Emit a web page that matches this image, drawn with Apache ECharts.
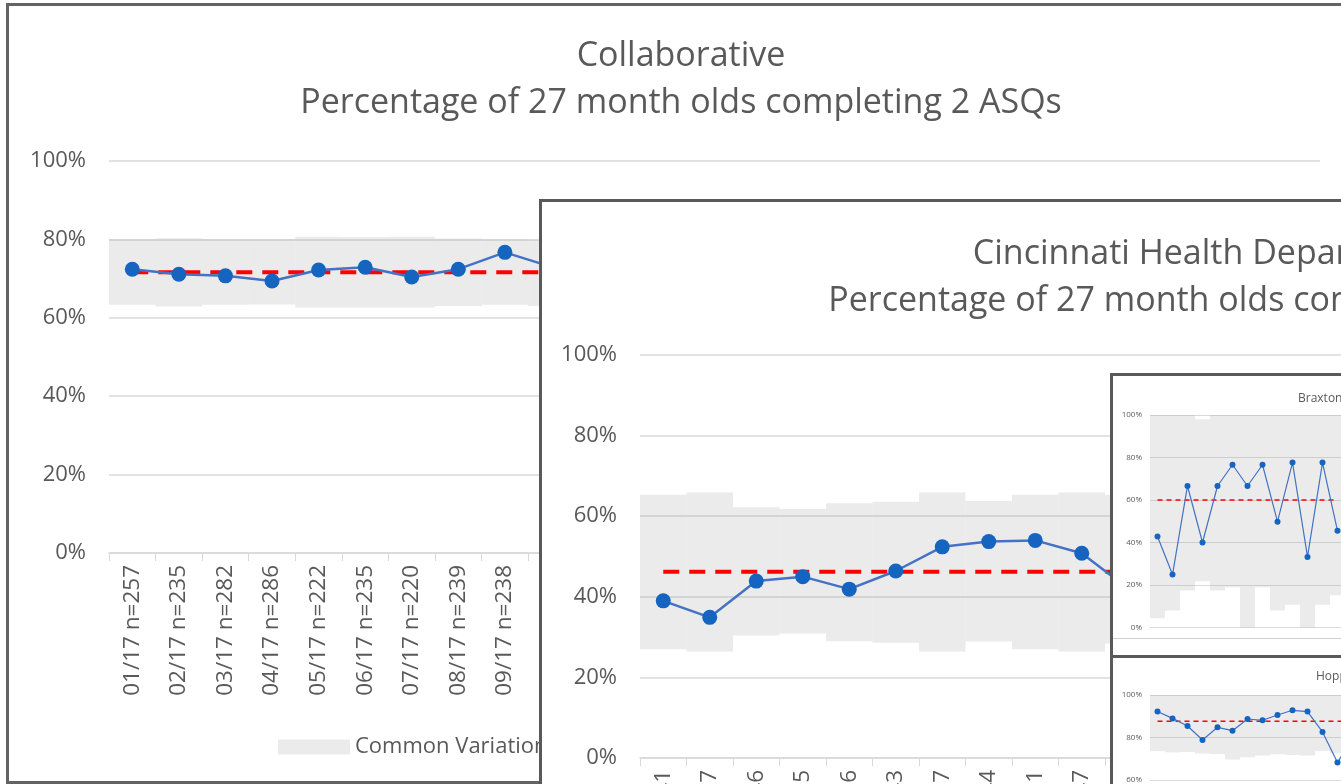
<!DOCTYPE html>
<html>
<head>
<meta charset="utf-8">
<title>ASQ completion run charts</title>
<script src="https://cdn.jsdelivr.net/npm/echarts@6/dist/echarts.min.js"></script>
<style>
html, body { margin: 0; padding: 0; background: #fff; width: 1341px; height: 784px; overflow: hidden; position: relative; }
.panel { position: absolute; background: #fff; }
#p1 { left: 6px; top: 3px; width: 1344px; height: 775px; border: 3px solid #636363; }
#p2 { left: 539px; top: 199px; width: 1334px; height: 800px; border: 3px solid #595959; }
#p3 { left: 1110px; top: 373px; width: 600px; height: 600px; border-left: 3px solid #595959; border-top: 3px solid #595959; }
#braxtonBox { position: absolute; left: 0; top: 0; width: 600px; height: 262px; border-bottom: 1px solid #d0d0d0; }
#hoppBox { position: absolute; left: 0; top: 279px; width: 600px; height: 400px; border-top: 3px solid #595959; }
.chart { width: 100%; height: 100%; }
</style>
</head>
<body>
<div class="panel" id="p1"><div class="chart" id="c1"></div></div>
<div class="panel" id="p2"><div class="chart" id="c2"></div></div>
<div class="panel" id="p3">
  <div id="braxtonBox"><div class="chart" id="c3"></div></div>
  <div id="hoppBox"><div class="chart" id="c4"></div></div>
</div>
<script>
// months shown on the big charts (26 months, only the first ones are visible)
const laterMonths = ['10/17', '11/17', '12/17', '01/18', '02/18', '03/18', '04/18', '05/18', '06/18',
  '07/18', '08/18', '09/18', '10/18', '11/18', '12/18', '01/19', '02/19'];

// Collaborative
const collabCats = ['01/17 n=257', '02/17 n=235', '03/17 n=282', '04/17 n=286', '05/17 n=222',
  '06/17 n=235', '07/17 n=220', '08/17 n=239', '09/17 n=238'].concat(laterMonths);
const collabPct = [72.4, 71.1, 70.7, 69.4, 72.2, 72.9, 70.4, 72.4, 76.7, 73.0];
const collabLcl = [63.3, 62.9, 63.3, 63.4, 62.6, 62.6, 62.6, 63.0, 63.3, 63.0];
const collabUcl = [80.1, 80.3, 80.1, 80.1, 80.7, 80.6, 80.7, 80.2, 80.1, 80.0];
const collabCl = 71.6;

// Cincinnati Health Department
const cincyCats = ['01/17 n=41', '02/17 n=37', '03/17 n=46', '04/17 n=35', '05/17 n=36',
  '06/17 n=43', '07/17 n=27', '08/17 n=44', '09/17 n=51', '10/17 n=47', '11/17', '12/17', '01/18',
  '02/18', '03/18', '04/18', '05/18', '06/18', '07/18', '08/18', '09/18', '10/18', '11/18', '12/18',
  '01/19', '02/19'];
const cincyPct = [39.0, 34.9, 43.9, 45.0, 41.9, 46.4, 52.4, 53.7, 54.0, 50.8, 42.0];
const cincyLcl = [27.0, 26.4, 30.4, 30.9, 29.0, 28.6, 26.4, 28.9, 27.0, 26.4, 28.4];
const cincyUcl = [65.3, 65.9, 62.2, 61.8, 63.2, 63.6, 65.9, 63.8, 65.3, 65.9, 65.3];
const cincyCl = 46.2;

// Braxton (small chart)
const braxtonCats = ['01/17', '02/17', '03/17', '04/17', '05/17', '06/17', '07/17', '08/17', '09/17',
  '10/17', '11/17', '12/17', '01/18'];
const braxtonPct = [42.8, 24.9, 66.6, 40.0, 66.6, 76.6, 66.6, 76.6, 49.8, 77.6, 33.2, 77.6, 45.5];
const braxtonLcl = [4.4, 8.0, 17.4, 21.8, 17.4, 19.0, 0, 19.0, 8.0, 10.7, 0, 10.7, 15.2];
const braxtonUcl = [100, 100, 100, 98, 100, 100, 100, 100, 100, 100, 100, 100, 100];
const braxtonCl = 60;

// Hopp... (small chart)
const hoppCats = ['01/17', '02/17', '03/17', '04/17', '05/17', '06/17', '07/17', '08/17', '09/17',
  '10/17', '11/17', '12/17', '01/18', '02/18'];
const hoppPct = [92.2, 89.0, 85.4, 78.8, 84.8, 83.2, 88.7, 88.1, 90.6, 92.8, 92.2, 82.6, 68.2, 80.0];
const hoppLcl = [73.6, 73.0, 73.2, 72.5, 72.2, 69.7, 70.7, 71.5, 72.1, 71.8, 71.5, 73.6, 72.5, 72.0];
const hoppUcl = [100, 100, 100, 100, 100, 100, 100, 100, 100, 100, 100, 100, 100, 100];
const hoppCl = 87.6;

const textGrey = '#595959';

function spcOption(cfg) {
  const bandSize = cfg.ucl.map((u, i) => +(u - cfg.lcl[i]).toFixed(1));
  const centre = cfg.cats.map(() => cfg.cl);
  const big = cfg.big;
  return {
    animation: false,
    textStyle: { fontFamily: 'Open Sans' },
    title: {
      text: cfg.title,
      left: cfg.titleLeft,
      top: cfg.titleTop,
      textStyle: { fontSize: big ? 34 : 12, fontWeight: 'normal', color: textGrey, lineHeight: big ? 47 : 14 }
    },
    legend: big ? {
      data: ['Common Variation'],
      left: cfg.legendLeft,
      top: cfg.legendTop,
      icon: 'rect',
      itemWidth: 72,
      itemHeight: 15,
      textStyle: { fontSize: 22, color: textGrey }
    } : { show: false },
    grid: cfg.grid,
    xAxis: {
      type: 'category',
      data: cfg.cats,
      axisLine: { lineStyle: { color: '#d9d9d9', width: big ? 1.5 : 1 } },
      axisTick: { show: big, length: 8, lineStyle: { color: '#d9d9d9' } },
      axisLabel: { show: big, rotate: 90, fontSize: 22.5, color: textGrey, margin: 12, interval: 0 }
    },
    yAxis: {
      type: 'value',
      min: 0,
      max: 100,
      interval: 20,
      axisLabel: { formatter: '{value}%', fontSize: big ? 22 : 8, color: textGrey, margin: big ? 23 : 8 },
      axisLine: { show: false },
      axisTick: { show: false },
      splitLine: { lineStyle: { color: '#d9d9d9', width: big ? 1.5 : 1 } }
    },
    series: [
      {
        type: 'bar', stack: 'band', data: cfg.lcl, barWidth: '100%', silent: true,
        itemStyle: { color: 'rgba(0,0,0,0)' }
      },
      {
        name: 'Common Variation', type: 'bar', stack: 'band', data: bandSize, barWidth: '100%', silent: true,
        itemStyle: { color: 'rgba(166,166,166,0.22)' }
      },
      {
        name: 'Center Line', type: 'line', data: centre, symbol: 'none', silent: true,
        lineStyle: { color: '#ff0000', width: big ? 4 : 1.5, type: big ? [16, 10] : [5, 4] }
      },
      {
        name: 'Percentage', type: 'line', data: cfg.values, symbol: 'circle',
        symbolSize: big ? 15 : 6,
        itemStyle: { color: '#1565c0' },
        lineStyle: { color: '#4472c4', width: big ? 2.5 : 1.2 }
      }
    ]
  };
}

const chart1 = echarts.init(document.getElementById('c1'));
chart1.setOption(spcOption({
  big: true,
  title: 'Collaborative\nPercentage of 27 month olds completing 2 ASQs',
  titleLeft: 'center', titleTop: 22,
  legendLeft: 264, legendTop: 725,
  grid: { left: 100, top: 155, width: 1211, height: 392 },
  cats: collabCats, values: collabPct, lcl: collabLcl, ucl: collabUcl, cl: collabCl
}));

const chart2 = echarts.init(document.getElementById('c2'));
chart2.setOption(spcOption({
  big: true,
  title: 'Cincinnati Health Department\nPercentage of 27 month olds completing 2 ASQs',
  titleLeft: 'center', titleTop: 24,
  legendLeft: 264, legendTop: 900,
  grid: { left: 98, top: 153, width: 1209, height: 403 },
  cats: cincyCats, values: cincyPct, lcl: cincyLcl, ucl: cincyUcl, cl: cincyCl
}));

const chart3 = echarts.init(document.getElementById('c3'));
chart3.setOption(spcOption({
  big: false,
  title: 'Braxton',
  titleLeft: 180, titleTop: 11,
  grid: { left: 37, top: 39, width: 195, height: 212.5 },
  cats: braxtonCats, values: braxtonPct, lcl: braxtonLcl, ucl: braxtonUcl, cl: braxtonCl
}));

const chart4 = echarts.init(document.getElementById('c4'));
chart4.setOption(spcOption({
  big: false,
  title: 'Hopp',
  titleLeft: 198, titleTop: 7,
  grid: { left: 37, top: 37, width: 210, height: 212.5 },
  cats: hoppCats, values: hoppPct, lcl: hoppLcl, ucl: hoppUcl, cl: hoppCl
}));
</script>
</body>
</html>
